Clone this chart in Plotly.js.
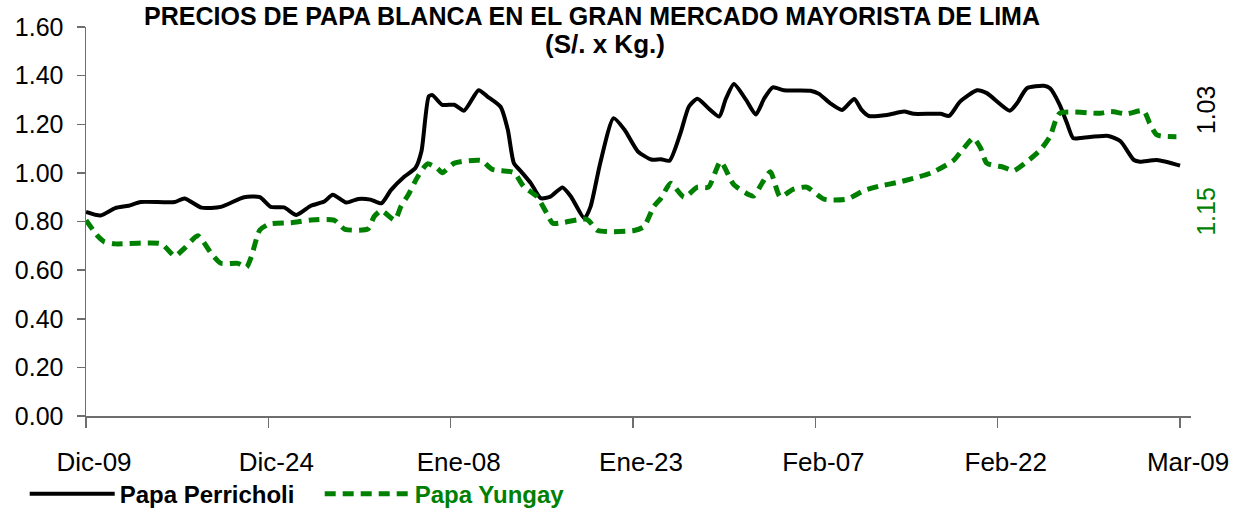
<!DOCTYPE html>
<html>
<head>
<meta charset="utf-8">
<script src="https://cdn.plot.ly/plotly-3.0.1.min.js"></script>
<style>html,body{margin:0;padding:0;background:#fff;}#chart{width:1235px;height:512px;}</style>
</head>
<body>
<div id="chart"></div>
<script>
// Days counted from Dic-09
const tickDays = [0, 15, 30, 45, 60, 75, 90];
const tickLabels = ["Dic-09", "Dic-24", "Ene-08", "Ene-23", "Feb-07", "Feb-22", "Mar-09"];

const perricholiDays = [0, 1.2, 2.4, 3.5, 4.5, 7.3, 8.1, 9.5, 11.1, 13, 14.3, 15.2, 16.3, 17.3, 18.5, 19.6, 20.3, 21.4, 22.4, 23.4, 24.3, 25.1, 26.2, 27.1, 27.6, 28.2, 28.5, 29.3, 30.3, 31.1, 32.3, 33, 34.1, 34.7, 35.2, 35.8, 36.6, 37.4, 38.2, 39.2, 39.9, 41, 41.5, 42.3, 43.4, 44.3, 45.4, 46.5, 47.3, 48, 48.9, 49.6, 50.3, 51.2, 52.1, 52.6, 53.3, 54.3, 55.1, 55.8, 56.5, 57.4, 59.6, 60.3, 61.2, 62.2, 63.2, 63.8, 64.4, 65.9, 67.3, 68.1, 70.3, 71, 71.9, 73.3, 74.1, 76, 76.6, 77.4, 78.8, 79.3, 80.1, 80.7, 81.2, 81.8, 84.1, 85.1, 86.2, 86.7, 88.1, 90];
const perricholiPrices = [0.84, 0.825, 0.855, 0.865, 0.88, 0.88, 0.895, 0.857, 0.86, 0.9, 0.9, 0.86, 0.858, 0.827, 0.865, 0.882, 0.91, 0.878, 0.893, 0.89, 0.875, 0.93, 0.985, 1.02, 1.09, 1.315, 1.32, 1.28, 1.28, 1.256, 1.34, 1.315, 1.272, 1.177, 1.04, 1.005, 0.957, 0.896, 0.902, 0.94, 0.902, 0.813, 0.86, 1.04, 1.225, 1.177, 1.088, 1.055, 1.056, 1.05, 1.163, 1.273, 1.305, 1.266, 1.232, 1.30, 1.366, 1.30, 1.24, 1.307, 1.352, 1.34, 1.338, 1.325, 1.287, 1.259, 1.304, 1.259, 1.234, 1.238, 1.252, 1.243, 1.243, 1.234, 1.293, 1.34, 1.328, 1.256, 1.287, 1.348, 1.358, 1.348, 1.28, 1.204, 1.143, 1.143, 1.152, 1.13, 1.053, 1.046, 1.053, 1.03];

const yungayDays = [0, 1, 1.5, 2.4, 6.2, 7.3, 8.1, 9.2, 10.3, 11.1, 12.5, 13.2, 13.6, 14.3, 15.1, 16.9, 18.5, 20.4, 21.3, 23.2, 23.7, 24.3, 25.4, 25.9, 26.5, 27.3, 28.1, 28.9, 29.3, 30.3, 32.5, 33.4, 35.2, 36, 37.1, 37.9, 38.4, 41.2, 42.1, 45.1, 45.9, 46.7, 47.3, 48.1, 49.2, 50.3, 51.2, 52.2, 53.3, 54.9, 55.6, 56.3, 57.1, 58.2, 59.3, 60.7, 62.6, 64, 65.3, 66.7, 68.1, 69.5, 70.8, 71.4, 72.2, 73, 73.6, 74.1, 75.5, 76.3, 77.4, 78.5, 79.3, 80.1, 83.4, 84.3, 85.6, 87, 87.5, 88.1, 89.7];
const yungayPrices = [0.805, 0.738, 0.717, 0.708, 0.708, 0.658, 0.69, 0.741, 0.669, 0.628, 0.628, 0.612, 0.655, 0.765, 0.79, 0.795, 0.806, 0.806, 0.768, 0.77, 0.82, 0.845, 0.806, 0.861, 0.909, 0.985, 1.037, 1.019, 1.001, 1.04, 1.051, 1.015, 1.001, 0.944, 0.902, 0.834, 0.793, 0.809, 0.763, 0.763, 0.779, 0.861, 0.896, 0.957, 0.9, 0.941, 0.941, 1.046, 0.951, 0.905, 0.957, 1.005, 0.902, 0.933, 0.941, 0.892, 0.892, 0.927, 0.946, 0.96, 0.978, 0.999, 1.033, 1.053, 1.101, 1.143, 1.101, 1.04, 1.023, 1.009, 1.046, 1.094, 1.149, 1.245, 1.245, 1.252, 1.243, 1.256, 1.204, 1.156, 1.149];

const lastPerricholi = "1.03";
const lastYungay = "1.15";

const FONT = "Liberation Sans, Arial, sans-serif";
const GREEN = "#008000";

const traces = [
  {
    x: perricholiDays, y: perricholiPrices, type: "scatter", mode: "lines",
    name: "Papa Perricholi",
    line: {color: "#000000", width: 4, shape: "spline", smoothing: 0.6}
  },
  {
    x: yungayDays, y: yungayPrices, type: "scatter", mode: "lines",
    name: "<span style='color:" + GREEN + "'>Papa Yungay</span>",
    line: {color: GREEN, width: 5, dash: "11px,7px", shape: "spline", smoothing: 0.6}
  }
];

const layout = {
  width: 1235, height: 512,
  paper_bgcolor: "#ffffff", plot_bgcolor: "#ffffff",
  margin: {l: 86, r: 44, t: 27, b: 96, pad: 0},
  font: {family: FONT, color: "#000000", size: 26},
  title: {
    text: "<b>PRECIOS DE PAPA BLANCA EN EL GRAN MERCADO MAYORISTA DE LIMA</b>",
    font: {family: FONT, size: 25, color: "#000000"},
    xref: "container", x: 0.4794, xanchor: "center",
    yref: "container", y: 0.986, yanchor: "top", pad: {t: 0}
  },
  showlegend: true,
  legend: {
    orientation: "h", x: 0.02, xref: "container", xanchor: "left",
    y: 0.035, yref: "container", yanchor: "middle",
    font: {family: FONT, size: 24, color: "#000000", weight: "bold"},
    itemwidth: 85, entrywidth: 195, entrywidthmode: "pixels",
    tracegroupgap: 0, bgcolor: "rgba(0,0,0,0)"
  },
  xaxis: {
    range: [0, 90.9], tickvals: tickDays, ticktext: tickLabels,
    showgrid: false, zeroline: false, showline: true, linecolor: "#6e6e6e", linewidth: 1.5,
    ticks: "outside", ticklen: 10, tickcolor: "#6e6e6e", tickwidth: 1.5,
    tickfont: {family: FONT, size: 26, color: "#000000"},
    ticklabelstandoff: 12, ticklabelshift: 8, fixedrange: true
  },
  yaxis: {
    range: [0, 1.6], tickvals: [0, 0.2, 0.4, 0.6, 0.8, 1.0, 1.2, 1.4, 1.6],
    tickformat: ".2f",
    showgrid: false, zeroline: false, showline: true, linecolor: "#6e6e6e", linewidth: 1.5,
    ticks: "outside", ticklen: 8, tickcolor: "#6e6e6e", tickwidth: 1.5,
    tickfont: {family: FONT, size: 25, color: "#000000"},
    ticklabelstandoff: 8, fixedrange: true
  },
  annotations: [
    {text: "<b>(S/. x Kg.)</b>", xref: "paper", yref: "paper", x: (605 - 86) / 1105, y: 0.9556,
     xanchor: "center", yanchor: "middle", showarrow: false,
     font: {family: FONT, size: 26, color: "#000000"}},
    {text: lastPerricholi, xref: "paper", yref: "paper", x: 1.0136, y: 0.786,
     xanchor: "center", yanchor: "middle", showarrow: false, textangle: -90,
     font: {family: FONT, size: 25, color: "#000000"}},
    {text: lastYungay, xref: "paper", yref: "paper", x: 1.0136, y: 0.525,
     xanchor: "center", yanchor: "middle", showarrow: false, textangle: -90,
     font: {family: FONT, size: 25, color: GREEN}}
  ]
};

Plotly.newPlot("chart", traces, layout, {displayModeBar: false, staticPlot: true});
</script>
</body>
</html>
